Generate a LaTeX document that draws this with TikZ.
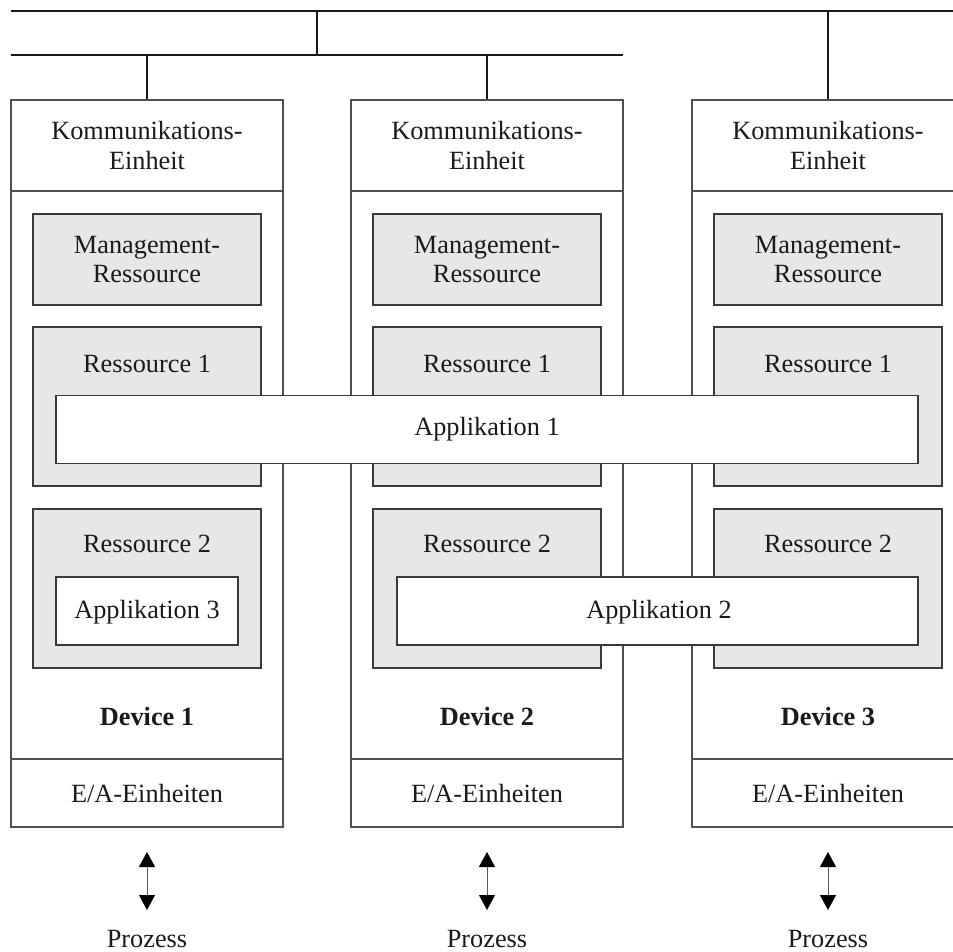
\documentclass[tikz,border=0pt]{standalone}
\usepackage{fontspec}
\setmainfont{Liberation Serif}
\usetikzlibrary{arrows.meta}
\definecolor{resgray}{HTML}{E6E7E8}
\definecolor{edgegray}{HTML}{3A3A3A}
\definecolor{devgray}{HTML}{505050}
\definecolor{inkgray}{HTML}{1A1A1A}
\begin{document}
\begin{tikzpicture}[x=1pt,y=-1pt,
  bus/.style={line width=2.7pt, draw=black!90},
  devbox/.style={draw=devgray, line width=1.1pt, fill=white, inner sep=0pt,
                 minimum width=272pt, minimum height=727pt},
  divider/.style={draw=devgray, line width=1.1pt},
  resbox/.style={draw=edgegray, line width=1.2pt, fill=resgray, inner sep=0pt,
                 minimum width=228pt},
  appbox/.style={draw=edgegray, line width=1.2pt, fill=white, inner sep=0pt,
                 minimum height=68pt},
  lbl/.style={font=\fontsize{26.3}{29.5}\selectfont, text=inkgray, inner sep=0pt, align=center},
  dual/.style={draw=black!65, line width=1pt,
               {Triangle[length=15pt,width=16pt,fill=black,color=black]}-{Triangle[length=15pt,width=16pt,fill=black,color=black]}}
]
\clip (0,0) rectangle (953,952);
\useasboundingbox (0,0) rectangle (953,952);

% field bus: upper and lower line with their junction
\coordinate (busA-l) at (11,11);
\coordinate (busA-r) at (970,11);
\coordinate (busB-l) at (11,55);
\coordinate (busB-r) at (623,55);
\coordinate (busA-j) at (317,11);
\coordinate (busB-j) at (317,55);
\coordinate (tap1) at (147,55);
\coordinate (tap2) at (487,55);
\coordinate (tap3) at (828,11);
\draw[bus] (busA-l) -- (busA-r);
\draw[bus] (busB-l) -- (busB-r);
\draw[bus] (busA-j) -- (busB-j);

% three devices
\foreach \i/\cx in {1/147, 2/487, 3/828} {
  \node[devbox] (dev\i) at (\cx,463.5) {};
  \coordinate (kl\i) at (\cx-136,191);
  \coordinate (kr\i) at (\cx+136,191);
  \coordinate (el\i) at (\cx-136,759);
  \coordinate (er\i) at (\cx+136,759);
  \draw[divider] (kl\i) -- (kr\i);
  \draw[divider] (el\i) -- (er\i);
  \node[lbl] (komm\i) at (\cx,145.5) {Kommunikations-\\Einheit};
  \node[resbox, minimum height=91pt] (mgmt\i) at (\cx,259.5) {};
  \node[lbl] (mgmtlbl\i) at (\cx,259.5) {Management-\\Ressource};
  \node[resbox, minimum height=159pt] (resA\i) at (\cx,406.5) {};
  \node[lbl, anchor=base] (resAlbl\i) at (\cx,372) {Ressource 1};
  \node[resbox, minimum height=159pt] (resB\i) at (\cx,588.5) {};
  \node[lbl, anchor=base] (resBlbl\i) at (\cx,552) {Ressource 2};
  \node[lbl, anchor=base, font=\fontsize{26.3}{29.5}\selectfont\bfseries] (devlbl\i) at (\cx,725) {Device \i};
  \node[lbl, anchor=base] (ea\i) at (\cx,802) {E/A-Einheiten};
  \node[lbl, anchor=base] (proc\i) at (\cx,947) {Prozess};
  \coordinate (arT\i) at (\cx,852);
  \coordinate (arB\i) at (\cx,910);
  \draw[dual] (arT\i) -- (arB\i);
}

% bus taps down to the devices
\draw[bus] (tap1) -- (dev1.north);
\draw[bus] (tap2) -- (dev2.north);
\draw[bus] (tap3) -- (dev3.north);

% applications spanning the resources
\node[appbox, minimum width=862pt] (app1) at (487,429.5) {};
\node[lbl, anchor=base] (app1lbl) at (487,435) {Applikation 1};
\node[appbox, minimum width=521pt] (app2) at (657.5,611) {};
\node[lbl, anchor=base] (app2lbl) at (659,618) {Applikation 2};
\node[appbox, minimum width=182pt] (app3) at (147,611) {};
\node[lbl, anchor=base] (app3lbl) at (147,618) {Applikation 3};
\end{tikzpicture}
\end{document}
